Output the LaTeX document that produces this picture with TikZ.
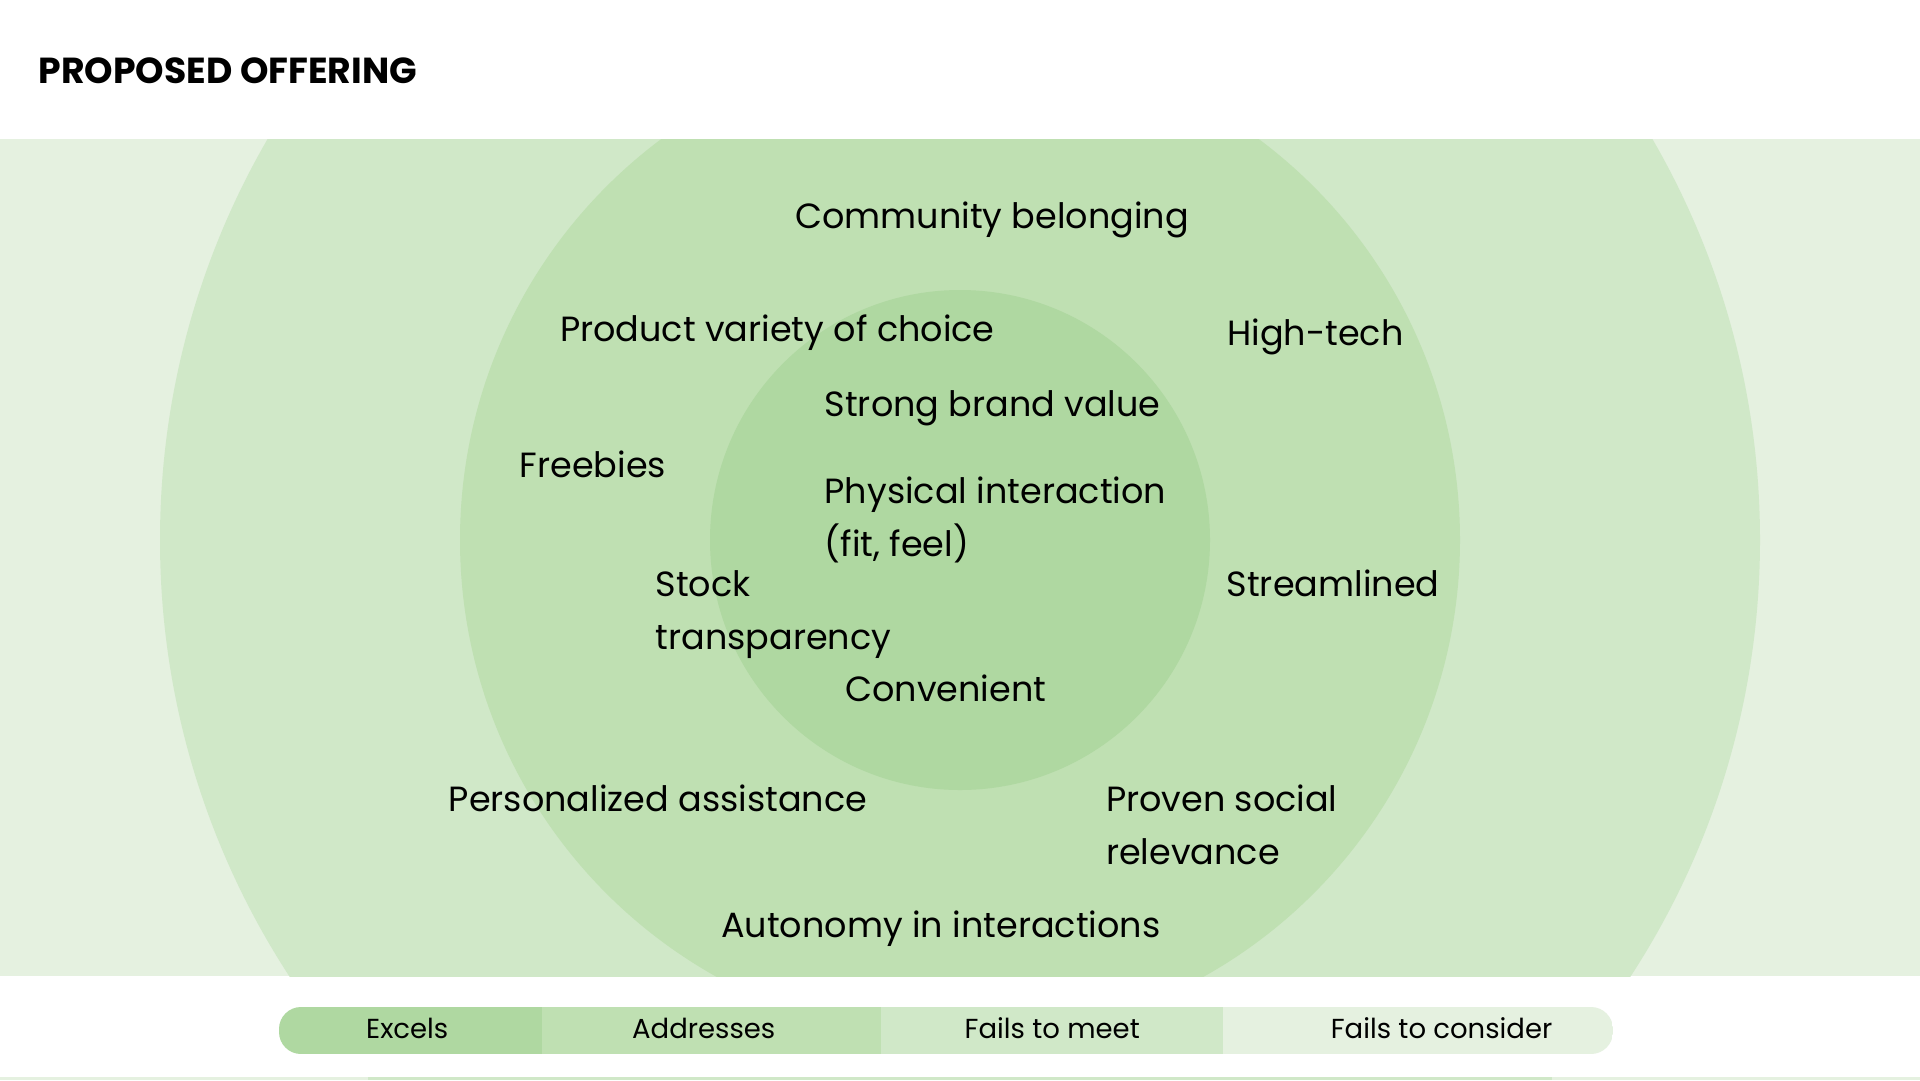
\documentclass[tikz,border=0pt]{standalone}
\usepackage{fontspec}
\setmainfont{Poppins}
\definecolor{cExc}{HTML}{AFD8A1}
\definecolor{cAdd}{HTML}{BFE0B2}
\definecolor{cMeet}{HTML}{D0E8C8}
\definecolor{cCons}{HTML}{E5F1E0}
\begin{document}
\begin{tikzpicture}[x=1pt,y=-1pt,
  lbl/.style={anchor=base west, inner sep=0pt, font=\fontsize{35}{53}\selectfont, align=left},
  leg/.style={anchor=base west, inner sep=0pt, font=\fontsize{27.5}{30}\selectfont}]
\useasboundingbox (0,0) rectangle (1920,1080);
\fill[white] (0,0) rectangle (1920,1080);
\node[anchor=base west, inner sep=0pt, font=\fontsize{36.2}{40}\selectfont\bfseries] (title) at (38.5,83) {PROPOSED OFFERING};
% rings
\begin{scope}
  \clip (0,139) rectangle (1920,976);
  \fill[cCons] (0,139) rectangle (1920,976);
  \fill[cMeet] (960,540) circle[radius=800];
  \fill[cAdd] (960,540) circle[radius=500];
  \fill[cExc] (960,540) circle[radius=250];
\end{scope}
% bottom strip
\fill[cCons] (0,1077) rectangle (1920,1080);
\fill[cMeet] (368,1077) rectangle (1552,1080);
% labels (multi-line nodes: base = last line)
\node[lbl] (comm) at (795,228) {Community belonging};
\node[lbl] (prod) at (560,341.2) {Product variety of choice};
\node[lbl] (high) at (1227,345.2) {High-tech};
\node[lbl] (strong) at (824.5,416.8) {Strong brand value};
\node[lbl] (free) at (519.5,477.9) {Freebies};
\node[lbl] (phys) at (824.5,556.9) {Physical interaction\\(fit, feel)};
\node[lbl] (stock) at (655.5,649.2) {Stock\\transparency};
\node[lbl] (stream) at (1226.5,596.2) {Streamlined};
\node[lbl] (conv) at (845,701.9) {Convenient};
\node[lbl] (pers) at (448.7,811.2) {Personalized assistance};
\node[lbl] (proven) at (1105.8,864.2) {Proven social\\relevance};
\node[lbl] (auto) at (721,937.9) {Autonomy in interactions};
% legend
\begin{scope}
  \clip[rounded corners=22pt] (279,1007) rectangle (1613,1054);
  \fill[cExc] (279,1007) rectangle (542,1054);
  \fill[cAdd] (542,1007) rectangle (880.5,1054);
  \fill[cMeet] (880.5,1007) rectangle (1223,1054);
  \fill[cCons] (1223,1007) rectangle (1613,1054);
\end{scope}
\node[leg] (lexc) at (366,1038.8) {Excels};
\node[leg] (ladd) at (632,1038.8) {Addresses};
\node[leg] (lmeet) at (964.5,1038.8) {Fails to meet};
\node[leg] (lcons) at (1330.6,1038.8) {Fails to consider};
\end{tikzpicture}
\end{document}
